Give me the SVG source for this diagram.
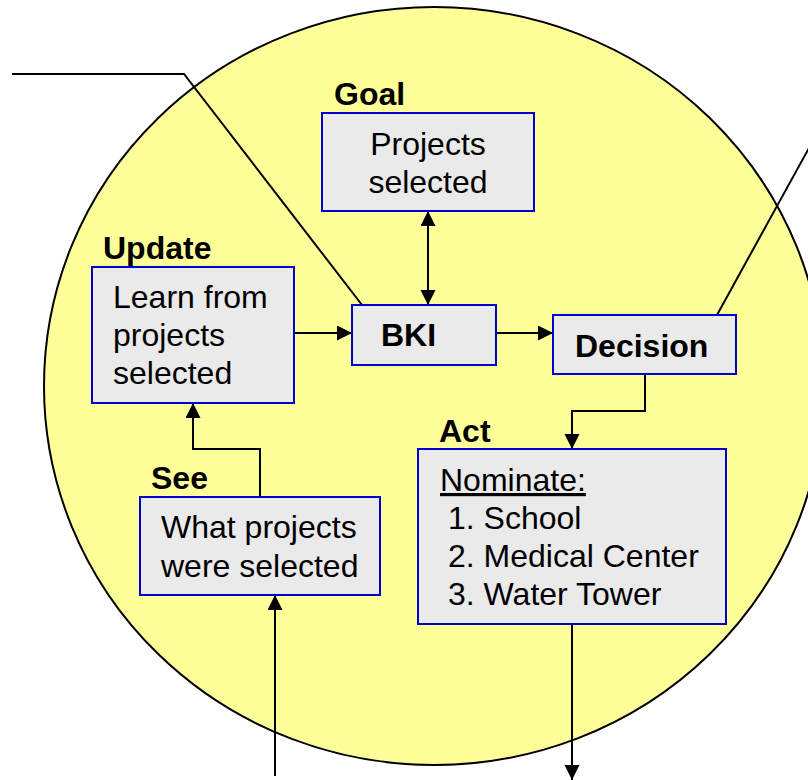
<svg xmlns="http://www.w3.org/2000/svg" width="808" height="780" viewBox="0 0 808 780">
  <style>
    .box { fill: #EAEAEA; stroke: #0000CC; stroke-width: 2; }
    .lbl { font-family: "Liberation Sans", Arial, sans-serif; font-size: 32px; font-weight: bold; fill: #000; }
    .txt { font-family: "Liberation Sans", Arial, sans-serif; font-size: 32px; fill: #000; }
    .wire { fill: none; stroke: #000; stroke-width: 2; }
  </style>
  <defs>
    <marker id="arrow" markerUnits="userSpaceOnUse" markerWidth="16" markerHeight="16" refX="15" refY="7.5" orient="auto-start-reverse">
      <path d="M0,0 L15,7.5 L0,15 Z" fill="#000"/>
    </marker>
  </defs>

  <rect width="808" height="780" fill="#fff"/>

  <!-- background loop -->
  <ellipse cx="434" cy="386" rx="390" ry="379" fill="#FFFF99" stroke="#000" stroke-width="2"/>

  <!-- connectors -->
  <g id="connectors">
    <path class="wire" d="M12,74 L184,74 L362,305"/>
    <path class="wire" d="M717,315 L815,137"/>
    <path class="wire" d="M294,333 L352,333" marker-end="url(#arrow)"/>
    <path class="wire" d="M496,333 L553,333" marker-end="url(#arrow)"/>
    <path class="wire" d="M428,211 L428,305" marker-start="url(#arrow)" marker-end="url(#arrow)"/>
    <path class="wire" d="M645,374 L645,411 L572,411 L572,449" marker-end="url(#arrow)"/>
    <path class="wire" d="M260,497 L260,449 L193,449 L193,403" marker-end="url(#arrow)"/>
    <path class="wire" d="M275,776 L275,595" marker-end="url(#arrow)"/>
    <path class="wire" d="M572,622 L572,780" marker-end="url(#arrow)"/>
  </g>

  <g id="goal">
    <text class="lbl" x="334" y="105">Goal</text>
    <rect class="box" x="322" y="113" width="212" height="98"/>
    <text class="txt" x="428" y="155" text-anchor="middle">Projects</text>
    <text class="txt" x="428" y="193" text-anchor="middle">selected</text>
  </g>

  <g id="update">
    <text class="lbl" x="103" y="259">Update</text>
    <rect class="box" x="92" y="267" width="202" height="136"/>
    <text class="txt" x="113" y="308">Learn from</text>
    <text class="txt" x="113" y="346">projects</text>
    <text class="txt" x="113" y="384">selected</text>
  </g>

  <g id="bki">
    <rect class="box" x="352" y="305" width="144" height="60"/>
    <text class="lbl" x="381" y="346">BKI</text>
  </g>

  <g id="decision">
    <rect class="box" x="553" y="315" width="183" height="59"/>
    <text class="lbl" x="575" y="357">Decision</text>
  </g>

  <g id="act">
    <text class="lbl" x="439" y="442">Act</text>
    <rect class="box" x="418" y="449" width="308" height="175"/>
    <text class="txt" x="440" y="491" text-decoration="underline">Nominate:</text>
    <text class="txt" x="448" y="529">1. School</text>
    <text class="txt" x="448" y="567">2. Medical Center</text>
    <text class="txt" x="448" y="605">3. Water Tower</text>
  </g>

  <g id="see">
    <text class="lbl" x="151" y="489">See</text>
    <rect class="box" x="140" y="497" width="240" height="98"/>
    <text class="txt" x="161" y="538">What projects</text>
    <text class="txt" x="161" y="577">were selected</text>
  </g>
</svg>
